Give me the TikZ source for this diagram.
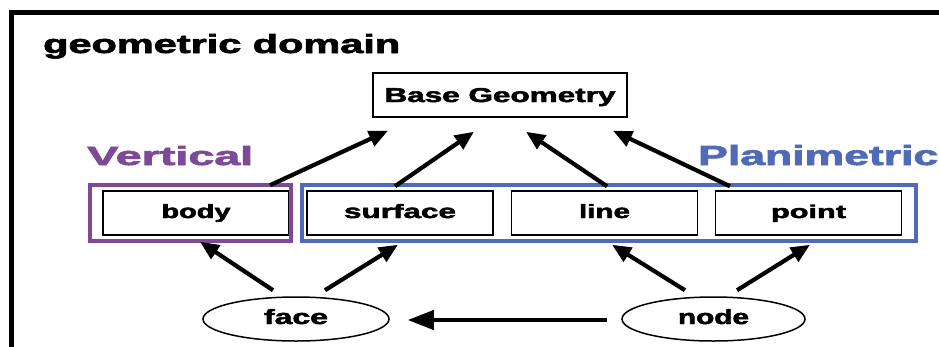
\documentclass[tikz,border=0pt]{standalone}
\usepackage{fontspec}
\setmainfont{Liberation Sans}
\newfontfamily\heavyfont{Liberation Sans}[UprightFont={* Bold},FakeBold=2.2]
\usetikzlibrary{calc,arrows.meta,shapes.geometric}
\definecolor{vpurple}{RGB}{126,74,152}
\definecolor{pblue}{RGB}{80,106,184}
\newcommand{\fittext}[3]{\resizebox{#1pt}{#2pt}{\heavyfont #3}}
\begin{document}
\begin{tikzpicture}[x=1pt,y=-1pt,
  box/.style={draw=black,line width=1.5pt,rectangle,inner sep=0pt,
    minimum width=186pt,minimum height=44pt,text height=10pt,text depth=0pt},
  ell/.style={draw=black,line width=1.5pt,ellipse,inner sep=0pt,
    minimum width=185pt,minimum height=44pt,text height=10pt,text depth=0pt},
  title/.style={inner sep=0pt,anchor=base west},
  arr/.style={line width=4.2pt,-{Triangle[length=19pt,width=16pt]}},
  harr/.style={line width=4.2pt,-{Triangle[length=26pt,width=19pt]}}]
\useasboundingbox[fill=white] (0,0) rectangle (939,346);
% outer frame
\draw[line width=5pt] (11,350) -- (11,12.5) -- (945,12.5);
% title texts
\node[title] (t) at (43,53) {\fittext{357}{19}{geometric domain}};
\node[title,text=vpurple] (vt) at (87,165) {\fittext{166}{19}{Vertical}};
\node[title,text=pblue] (pt) at (698,165) {\fittext{240}{20}{Planimetric}};
% base
\node[box,minimum width=254pt,text height=14pt] (base) at (500,95) {\fittext{231}{14}{Base Geometry}};
% boxes
\node[box] (body) at (196,213) {\fittext{69}{14}{body}};
\node[box] (surface) at (400,213) {\fittext{112}{14}{surface}};
\node[box] (line) at (604.5,213) {\fittext{51}{14}{line}};
\node[box] (point) at (808.5,213) {\fittext{75}{13.5}{point}};
% group frames
\draw[vpurple,line width=4.5pt] (90,185) rectangle (291,241);
\draw[pblue,line width=4.5pt] (302,185) rectangle (916,241);
% ellipses
\node[ell,minimum width=186pt] (face) at (296,319) {\fittext{64}{15}{face}};
\node[ell,minimum width=183pt] (node) at (713.5,319) {\fittext{71}{15}{node}};
% upper arrows
\draw[arr] ($(body.north)+(74,-5)$) -- ($(base.south)+(-112,13)$);
\draw[arr] ($(surface.north)+(-5,-4)$) -- ($(base.south)+(-26,14)$);
\draw[arr] ($(line.north)+(2.5,-4)$) -- ($(base.south)+(26,14)$);
\draw[arr] ($(point.north)+(-78.5,-4)$) -- ($(base.south)+(113,13)$);
% lower arrows
\draw[arr] ($(face.north)+(-23,-6)$) -- ($(body.south)+(4,6)$);
\draw[arr] ($(face.north)+(29,-6)$) -- ($(surface.south)+(-2,9)$);
\draw[arr] ($(node.north)+(-28.5,-6)$) -- ($(line.south)+(7.5,9)$);
\draw[arr] ($(node.north)+(23.5,-6)$) -- ($(point.south)+(1.5,9)$);
\draw[harr] ($(node.west)+(-14,1)$) -- ($(face.east)+(18,1)$);
\end{tikzpicture}
\end{document}
